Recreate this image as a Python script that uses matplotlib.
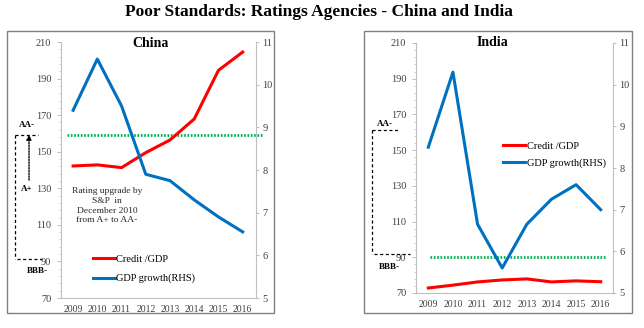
import matplotlib
matplotlib.use("Agg")
import matplotlib.pyplot as plt
from matplotlib.patches import Rectangle
import matplotlib.transforms as mtransforms

plt.rcParams["font.family"] = ["Liberation Serif", "DejaVu Serif"]

years = [2009, 2010, 2011, 2012, 2013, 2014, 2015, 2016]
left_ticks = [70, 90, 110, 130, 150, 170, 190, 210]
right_ticks = [5, 6, 7, 8, 9, 10, 11]

china_credit = [142.2, 142.8, 141.3, 149.5, 156.4, 167.9, 194.5, 204.5]
china_growth = [9.4, 10.6, 9.5, 7.9, 7.75, 7.3, 6.9, 6.55]
china_rating = 159.3

india_credit = [72.8, 74.4, 76.2, 77.3, 77.9, 76.2, 76.8, 76.3]
india_growth = [8.5, 10.3, 6.65, 5.6, 6.65, 7.25, 7.6, 7.0]
india_rating = 90.3

RED = "#ff0000"
BLUE = "#0070c0"
GREEN = "#00b050"
GRID = "#bfbfbf"
TXT = "#404040"

fig = plt.figure(figsize=(6.44, 3.28), dpi=100)
W, H = 644, 328


def px_axes(left, top, right, bottom):
    return fig.add_axes([left / W, 1 - bottom / H, (right - left) / W, (bottom - top) / H])


def style(ax, ax2):
    ax.set_ylim(70, 210)
    ax.set_yticks(left_ticks)
    ax.set_yticks(range(70, 211, 4), minor=True)
    ax2.set_ylim(5, 11)
    ax2.set_yticks(right_ticks)
    ax.set_xticks(years)
    ax.set_xticklabels([str(y) for y in years])
    for a in (ax, ax2):
        a.patch.set_visible(False)
        for s in a.spines.values():
            s.set_color(GRID)
            s.set_linewidth(0.8)
        a.spines["top"].set_visible(False)
    ax.spines["right"].set_visible(False)
    ax2.spines["left"].set_visible(False)
    ax2.spines["bottom"].set_visible(False)
    ax.tick_params(axis="y", which="major", length=3, width=0.7, color=GRID,
                   labelsize=7.5, labelcolor=TXT, pad=4)
    ax.tick_params(axis="y", which="minor", length=1.5, width=0.5, color=GRID)
    ax.tick_params(axis="x", length=0, labelsize=7, labelcolor=TXT, pad=5)
    ax2.tick_params(axis="y", length=2.5, width=0.7, color=GRID,
                    labelsize=7.5, labelcolor=TXT, pad=2)


def dotted(ax, level, x0, x1):
    ax.hlines(level, x0, x1, colors=GREEN, linewidth=2.0, linestyles=(0, (0.6, 0.6)),
              clip_on=False, zorder=1)


def bracket(ax, top, bottom, xv, top_x1, bot_x0, bot_x1):
    tr = mtransforms.blended_transform_factory(ax.transAxes, ax.transData)
    kw = dict(transform=tr, clip_on=False, color="black", linewidth=0.9, linestyle=(0, (2.5, 2)))
    ax.plot([xv, top_x1], [top, top], **kw)
    ax.plot([xv, xv], [top, bottom], **kw)
    ax.plot([bot_x0, bot_x1], [bottom, bottom], **kw)
    return tr


# China panel
ax = px_axes(61, 42, 256, 298)
ax2 = ax.twinx()
style(ax, ax2)
dotted(ax, china_rating, 2008.75, 2016.8)
l1, = ax.plot(years, china_credit, color=RED, linewidth=2.2, label="Credit /GDP", zorder=3)
l2, = ax2.plot(years, china_growth, color=BLUE, linewidth=2.2, label="GDP growth(RHS)", zorder=3)
ax.set_xlim(2008.5, 2016.55)
ax.text(0.46, 0.995, "China", transform=ax.transAxes, ha="center", va="center",
        fontsize=10, fontweight="bold")
ax.text(2010.4, 120.5, "Rating upgrade by\nS&P  in\nDecember 2010\nfrom A+ to AA-",
        ha="center", va="center", fontsize=6.8, linespacing=1.3, color="#262626")
tr = bracket(ax, china_rating, 91.2, -0.236, -0.118, -0.226, -0.10)
ax.annotate("", xy=(-0.164, china_rating), xytext=(-0.164, 134.5), xycoords=tr,
            textcoords=tr, annotation_clip=False,
            arrowprops=dict(arrowstyle="-|>", linestyle=(0, (1, 1)), lw=1.0,
                            color="black", mutation_scale=7, shrinkA=0, shrinkB=0))
ax.text(-0.174, 164.5, "AA-", transform=tr, ha="center", va="center", fontsize=6.5,
        fontweight="bold")
ax.text(-0.174, 129.6, "A+", transform=tr, ha="center", va="center", fontsize=6.5,
        fontweight="bold")
ax.text(-0.123, 84.8, "BBB-", transform=tr, ha="center", va="center", fontsize=6.5,
        fontweight="bold")
ax.legend(handles=[l1, l2], loc="center left", bbox_to_anchor=(0.164, 0.113),
          frameon=False, fontsize=7.5, handlelength=2.1, handletextpad=0.15,
          labelspacing=0.95, borderpad=0, borderaxespad=0)

# India panel
bx = px_axes(416, 43, 613, 293)
bx2 = bx.twinx()
style(bx, bx2)
dotted(bx, india_rating, 2009.05, 2016.2)
m1, = bx.plot(years, india_credit, color=RED, linewidth=2.2, label="Credit /GDP", zorder=3)
m2, = bx2.plot(years, india_growth, color=BLUE, linewidth=2.2, label="GDP growth(RHS)", zorder=3)
bx.set_xlim(2008.5, 2016.5)
bx.text(0.386, 1.0, "India", transform=bx.transAxes, ha="center", va="center",
        fontsize=10, fontweight="bold")
tr = bracket(bx, 161.3, 92.0, -0.223, -0.091, -0.213, -0.03)
bx.text(-0.157, 164.6, "AA-", transform=tr, ha="center", va="center", fontsize=6.5,
        fontweight="bold")
bx.text(-0.135, 84.3, "BBB-", transform=tr, ha="center", va="center", fontsize=6.5,
        fontweight="bold")
bx.legend(handles=[m1, m2], loc="center left", bbox_to_anchor=(0.442, 0.552),
          frameon=False, fontsize=7.5, handlelength=2.1, handletextpad=0.15,
          labelspacing=0.75, borderpad=0, borderaxespad=0)

# panel frames
for x0, x1 in [(7, 274), (364, 632)]:
    fig.add_artist(Rectangle((x0 / W, 1 - 313 / H), (x1 - x0) / W, (313 - 31) / H,
                             transform=fig.transFigure, fill=False,
                             edgecolor="#808080", linewidth=1.0))

fig.text(0.495, 0.963, "Poor Standards: Ratings Agencies - China and India",
         ha="center", va="center", fontsize=12.5, fontweight="bold")

fig.savefig("out.png", dpi=100)
